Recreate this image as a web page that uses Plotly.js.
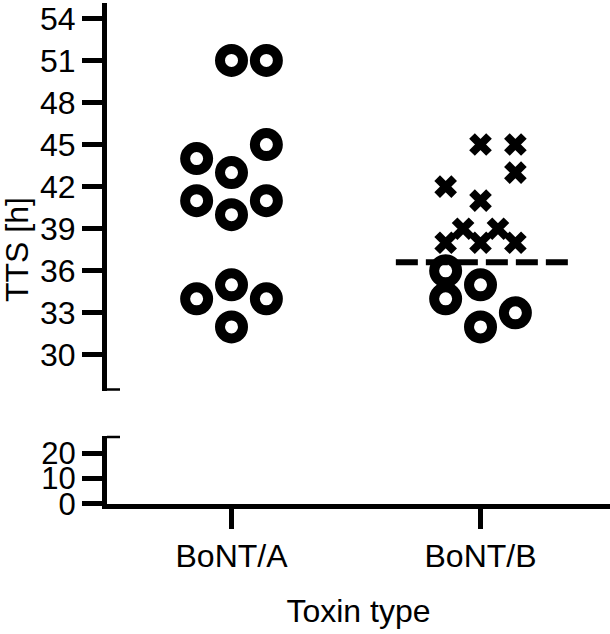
<!DOCTYPE html>
<html>
<head>
<meta charset="utf-8">
<script src="https://cdn.plot.ly/plotly-3.0.1.min.js"></script>
<style>
  html, body { margin: 0; padding: 0; background: #fff; }
  #chart { width: 610px; height: 634px; }
</style>
</head>
<body>
<div id="chart"></div>
<script>
// ---- data ----
const categories = ['BoNT/A', 'BoNT/B'];
const upperTicks = [30, 33, 36, 39, 42, 45, 48, 51, 54];
const lowerTicks = [0, 10, 20];

// BoNT/A (open circles): TTS values and scatter column (-1, 0, +1)
const aCircleTTS = [51, 51, 45, 44, 43, 41, 41, 40, 35, 34, 34, 32];
const aCircleCol = [0, 1, 1, -1, 0, -1, 1, 0, 0, -1, 1, 0];

// BoNT/B (crosses)
const bCrossTTS = [45, 45, 43, 42, 41, 39, 39, 38, 38, 38];
const bCrossCol = [0, 1, 1, -1, 0, -0.5, 0.5, -1, 0, 1];

// BoNT/B (open circles)
const bCircleTTS = [36, 35, 34, 33, 32];
const bCircleCol = [-1, 0, -1, 1, 0];

// BoNT/B dashed reference line
const bLineTTS = 36.6;

// ---- build ----
const colStep = 0.14;
const FONT = 'Arial, "Liberation Sans", sans-serif';
const catPos = c => categories.indexOf(c);
const xs = (cat, cols) => cols.map(c => catPos(cat) + c * colStep);

const circleMarker = { symbol: 'circle-open', size: 23, color: '#000', line: { width: 10, color: '#000' } };
const crossMarker = { symbol: 'x-thin-open', size: 17, color: '#000', line: { width: 8, color: '#000' } };

const traces = [
  { type: 'scatter', mode: 'markers', x: xs('BoNT/A', aCircleCol), y: aCircleTTS,
    marker: circleMarker, xaxis: 'x', yaxis: 'y', cliponaxis: false, hoverinfo: 'skip' },
  { type: 'scatter', mode: 'markers', x: xs('BoNT/B', bCrossCol), y: bCrossTTS,
    marker: crossMarker, xaxis: 'x', yaxis: 'y', cliponaxis: false, hoverinfo: 'skip' },
  { type: 'scatter', mode: 'markers', x: xs('BoNT/B', bCircleCol), y: bCircleTTS,
    marker: circleMarker, xaxis: 'x', yaxis: 'y', cliponaxis: false, hoverinfo: 'skip' }
];

const yUpperRange = [27.45, 55.09];
const yLowerRange = [0, 26.8];
const xRange = [-0.5, 1.52];

const axisCommon = {
  showgrid: false, zeroline: false, showline: true, linecolor: '#000', linewidth: 5,
  ticks: 'outside', ticklen: 20, tickwidth: 5, tickcolor: '#000',
  tickfont: { family: FONT, size: 32, color: '#000' }, fixedrange: true
};

const capShape = (yref, yval) => ({
  type: 'line', xref: 'x', yref: yref, xsizemode: 'pixel', xanchor: xRange[0],
  x0: -12, x1: 13, y0: yval, y1: yval, line: { color: '#000', width: 5 }
});

const layout = {
  width: 610, height: 634,
  margin: { l: 107, r: 0, t: 0, b: 130 },
  paper_bgcolor: '#fff', plot_bgcolor: '#fff',
  showlegend: false,
  font: { family: FONT, size: 32, color: '#000' },
  xaxis: Object.assign({}, axisCommon, {
    range: xRange, anchor: 'y2',
    tickvals: categories.map((c, i) => i), ticktext: categories,
    title: { text: 'Toxin type', font: { family: FONT, size: 32, color: '#000' }, standoff: 28 }
  }),
  yaxis: Object.assign({}, axisCommon, {
    domain: [0.2248, 0.994], range: yUpperRange, anchor: 'x',
    tickvals: upperTicks, ticktext: upperTicks.map(String)
  }),
  yaxis2: Object.assign({}, axisCommon, {
    domain: [0, 0.1355], range: yLowerRange, anchor: 'x',
    tickvals: lowerTicks, ticktext: lowerTicks.map(String),
    tickfont: { family: FONT, size: 31, color: '#000' }
  }),
  shapes: [
    capShape('y', yUpperRange[0]),
    capShape('y2', yLowerRange[1]),
    { type: 'line', xref: 'x', yref: 'y', x0: catPos('BoNT/B') - 0.34, x1: catPos('BoNT/B') + 0.355,
      y0: bLineTTS, y1: bLineTTS, line: { color: '#000', width: 6, dash: '22px,8px' }, layer: 'above' }
  ],
  annotations: [
    { text: 'TTS [h]', xref: 'paper', yref: 'paper', x: 0, y: 0.504, xshift: -90,
      xanchor: 'center', yanchor: 'middle', textangle: -90, showarrow: false,
      font: { family: FONT, size: 32, color: '#000' } }
  ]
};

Plotly.newPlot('chart', traces, layout, { staticPlot: true, displayModeBar: false });
</script>
</body>
</html>
